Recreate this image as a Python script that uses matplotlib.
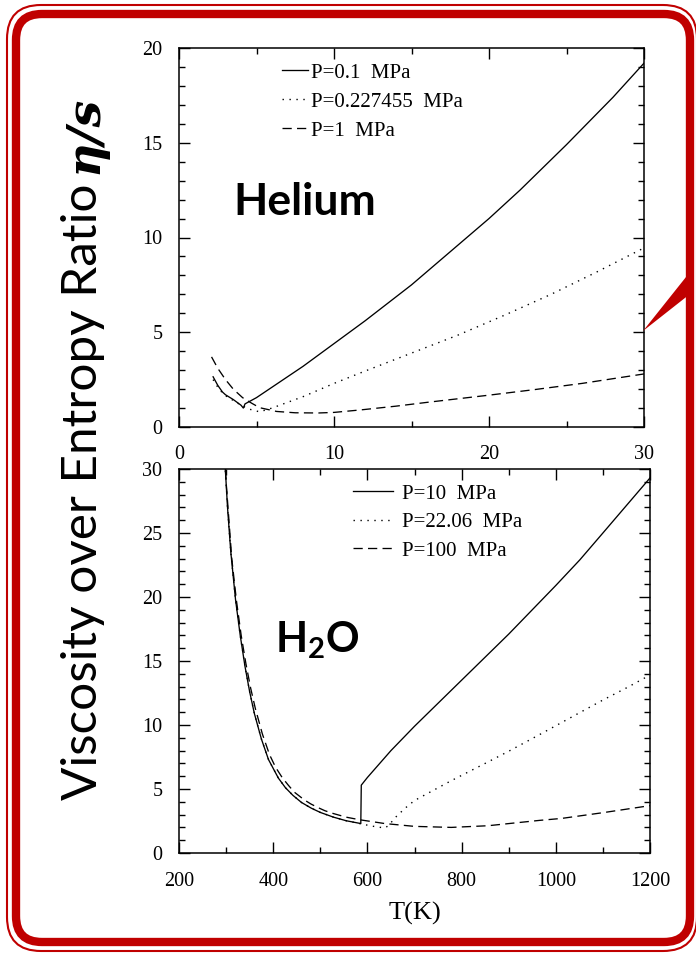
import numpy as np
import matplotlib.pyplot as plt
from matplotlib.patches import FancyBboxPatch, Polygon
from matplotlib.transforms import IdentityTransform

###########################################
## donnees
###########################################
# Helium : eta/s en fonction de T (K)
he_T_01 = [2.2, 2.5, 2.8, 3.0, 3.5, 4.0, 4.15, 4.26, 5, 6, 7, 8, 10, 12, 15, 18, 20, 22, 25, 28, 30]
he_eta_01 = [2.65, 2.2, 1.85, 1.7, 1.45, 1.15, 1.0, 1.22, 1.55, 2.1, 2.65, 3.2, 4.4, 5.6, 7.5, 9.6, 11.0, 12.5, 14.9, 17.4, 19.2]
he_T_02 = [2.2, 2.5, 2.8, 3.0, 3.5, 4.0, 4.5, 5.2, 6, 7, 8, 10, 12, 15, 18, 21, 24, 27, 30]
he_eta_02 = [2.5, 2.1, 1.8, 1.65, 1.4, 1.15, 0.95, 0.8, 1.0, 1.3, 1.6, 2.3, 2.95, 3.9, 4.85, 5.9, 7.0, 8.2, 9.45]
he_T_1 = [2.1, 2.5, 3.0, 3.5, 4.1, 4.7, 5.2, 6.3, 7.5, 9, 10, 11.7, 14, 16, 18.1, 20, 23, 26, 30]
he_eta_1 = [3.7, 3.1, 2.5, 2.0, 1.55, 1.25, 1.02, 0.82, 0.75, 0.74, 0.77, 0.9, 1.1, 1.3, 1.5, 1.68, 1.98, 2.3, 2.8]
he_labels = ["P=0.1  MPa", "P=0.227455  MPa", "P=1  MPa"]

# H2O : eta/s en fonction de T (K)
w_T_10 = [296, 303, 310, 320, 330, 340, 350, 360, 375, 390, 411, 426, 442, 460, 481, 500, 528, 555, 586,
          587, 600, 650, 700, 800, 900, 1000, 1051, 1100, 1200]
w_eta_10 = [31.5, 27, 23.5, 19.8, 17.0, 14.6, 12.6, 10.9, 8.9, 7.3, 5.85, 5.1, 4.5, 3.95, 3.5, 3.17, 2.8, 2.52, 2.3,
            5.3, 5.9, 8.0, 9.9, 13.5, 17.1, 20.9, 22.9, 25.0, 29.3]
w_T_22 = [296, 303, 310, 320, 330, 340, 350, 360, 375, 390, 411, 426, 442, 460, 481, 500, 528, 555, 586,
          610, 637, 645, 660, 680, 700, 778, 850, 900, 973, 1050, 1100, 1150, 1200]
w_eta_22 = [31.5, 27, 23.5, 19.8, 17.0, 14.6, 12.6, 10.9, 8.9, 7.3, 5.85, 5.1, 4.5, 3.95, 3.5, 3.17, 2.8, 2.52, 2.28,
            2.1, 1.95, 2.15, 2.8, 3.5, 4.1, 5.65, 7.0, 7.95, 9.4, 10.95, 11.95, 12.9, 13.9]
w_T_100 = [297, 300, 305, 312, 322, 332, 342, 352, 362, 377, 392, 405, 419, 432, 445, 466, 480, 495, 510, 528, 555, 583,
           637, 700, 778, 856, 966, 1012, 1100, 1200]
w_eta_100 = [31, 29, 26.5, 23, 19.7, 17, 14.8, 12.9, 11.3, 9.3, 7.7, 6.7, 5.9, 5.3, 4.75, 4.15, 3.83, 3.55, 3.3, 3.08, 2.8, 2.6,
             2.3, 2.08, 2.0, 2.13, 2.55, 2.7, 3.15, 3.7]
w_labels = ["P=10  MPa", "P=22.06  MPa", "P=100  MPa"]

rouge = '#C00000'
plt.rcParams['font.family'] = 'Liberation Serif'
plt.rcParams['mathtext.fontset'] = 'custom'
plt.rcParams['mathtext.bf'] = 'Lato:bold'
plt.rcParams['mathtext.rm'] = 'Lato'

fig = plt.figure(figsize=(6.96, 9.56), dpi=100)
W, H = 696, 956


def cadre(ax):
    for s in ax.spines.values():
        s.set_linewidth(1.1)
    ax.tick_params(which='both', direction='in', top=True, right=True, width=1.0, labelsize=14.5)
    ax.tick_params(which='major', length=8)
    ax.tick_params(which='minor', length=4)


dot = (0, (1, 4))
dash = (0, (7, 4))

###########################################
## Helium
###########################################
ax1 = fig.add_axes([179 / W, 1 - 427 / H, 465 / W, 379 / H])
ax1.plot(he_T_01, he_eta_01, color='k', lw=0.95, label=he_labels[0])
ax1.plot(he_T_02, he_eta_02, color='k', lw=1.0, ls=dot, label=he_labels[1])
ax1.plot(he_T_1, he_eta_1, color='k', lw=0.95, ls=dash, label=he_labels[2])
ax1.set_xlim(0, 30)
ax1.set_ylim(0, 20)
ax1.set_xticks([0, 10, 20, 30])
ax1.set_xticks([5, 15, 25], minor=True)
ax1.set_yticks([0, 5, 10, 15, 20])
ax1.set_yticks(np.arange(0, 21, 1), minor=True)
cadre(ax1)
ax1.tick_params(axis='x', pad=13)
ax1.tick_params(axis='y', pad=12)
ax1.legend(loc='upper left', bbox_to_anchor=(282 / W, 1 - 63 / H), bbox_transform=fig.transFigure,
           frameon=False, fontsize=15, handlelength=1.25, handletextpad=0.15, labelspacing=0.45,
           borderpad=0, borderaxespad=0)
fig.text(233 / W, 1 - 215 / H, "Helium", family='Lato', weight='bold', fontsize=32, ha='left', va='baseline')

###########################################
## H2O
###########################################
ax2 = fig.add_axes([179 / W, 1 - 853 / H, 471 / W, 384 / H])
ax2.plot(w_T_10, w_eta_10, color='k', lw=0.95, label=w_labels[0])
ax2.plot(w_T_22, w_eta_22, color='k', lw=1.0, ls=dot, label=w_labels[1])
ax2.plot(w_T_100, w_eta_100, color='k', lw=0.95, ls=dash, label=w_labels[2])
ax2.set_xlim(200, 1200)
ax2.set_ylim(0, 30)
ax2.set_xticks(np.arange(200, 1201, 200))
ax2.set_xticks(np.arange(300, 1200, 200), minor=True)
ax2.set_yticks(np.arange(0, 31, 5))
ax2.set_yticks(np.arange(0, 31, 1), minor=True)
cadre(ax2)
ax2.tick_params(axis='x', pad=13.5)
ax2.tick_params(axis='y', pad=12)
ax2.set_xlabel("T(K)", fontsize=19, labelpad=8)
ax2.legend(loc='upper left', bbox_to_anchor=(353 / W, 1 - 484 / H), bbox_transform=fig.transFigure,
           frameon=False, fontsize=15, handlelength=1.9, handletextpad=0.45, labelspacing=0.43,
           borderpad=0, borderaxespad=0)
fig.text(275 / W, 1 - 652 / H, r"$\mathbf{H_2O}$", fontsize=30, ha='left', va='baseline')

###########################################
## titre vertical
###########################################
t1 = fig.text(97 / W, 1 - 800 / H, "Viscosity over Entropy Ratio", family='Lato',
              fontsize=33, rotation=90, rotation_mode='anchor', ha='left', va='baseline')
fig.canvas.draw()
bb = t1.get_window_extent()
t1.set_fontsize(33 * 617 / bb.height)
fig.canvas.draw()
bb = t1.get_window_extent()
fig.text(97 / W, (bb.y1 + 10) / H, "η/s", family='DejaVu Serif', weight='bold', style='italic',
         fontsize=34, rotation=90, rotation_mode='anchor', ha='left', va='baseline')

###########################################
## cadre rouge et fleche
###########################################
fig.add_artist(FancyBboxPatch((7, 5), 690, 946, boxstyle='round,pad=0,rounding_size=34',
                              transform=IdentityTransform(), fill=False, ec=rouge, lw=1.5))
fig.add_artist(FancyBboxPatch((16, 14), 674, 928, boxstyle='round,pad=0,rounding_size=26',
                              transform=IdentityTransform(), fill=False, ec=rouge, lw=6))
fig.add_artist(Polygon([(643, H - 331), (690, H - 272), (690, H - 294)], closed=True,
                       transform=IdentityTransform(), fc=rouge, ec='none'))

fig.savefig('out.png', dpi=100)
